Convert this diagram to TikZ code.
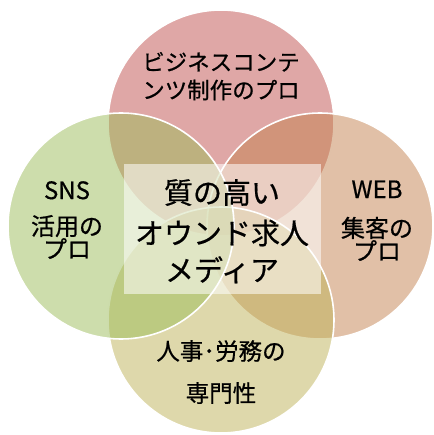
\documentclass[tikz,border=0pt]{standalone}
\usepackage{fontspec}
\newfontfamily\jp[FakeBold=0.6]{Noto Sans CJK JP}
\definecolor{ctop}{RGB}{192,80,77}
\definecolor{cright}{RGB}{195,130,80}
\definecolor{cbottom}{RGB}{190,178,88}
\definecolor{cleft}{RGB}{155,187,89}
\begin{document}
\begin{tikzpicture}[x=1pt,y=-1pt,
  petal/.style={draw=white,line width=1.6pt,fill opacity=0.5,draw opacity=1},
  lbl/.style={inner sep=0pt},
  small/.style={lbl,font=\jp\fontsize{22.5}{25}\selectfont,text height=19.8pt,text depth=2.7pt},
  btm/.style={lbl,font=\jp\fontsize{23.5}{26}\selectfont,text height=20.7pt,text depth=2.8pt},
  side/.style={lbl,font=\jp\fontsize{24}{27}\selectfont,text height=21.1pt,text depth=2.9pt},
  big/.style={lbl,font=\jp\fontsize{29}{32}\selectfont,text height=25.5pt,text depth=3.5pt}]
\useasboundingbox (0,0) rectangle (433,435);
\path[petal,fill=ctop] (221,123) circle[radius=113pt];
\path[petal,fill=cright] (320,226) circle[radius=113pt];
\path[petal,fill=cbottom] (221,320) circle[radius=113pt];
\path[petal,fill=cleft] (121,226) circle[radius=113pt];
\node[fill=white,fill opacity=0.55,minimum width=197pt,minimum height=130pt,inner sep=0pt] (box) at (222.5,229) {};
% top
\node[small] (t1) at (221,62) {ビジネスコンテ};
\node[small] (t2) at (221,90) {ンツ制作のプロ};
% center
\node[big] (c1) at (222,192.5) {質の高い};
\node[big] (c2) at (222,233) {オウンド求人};
\node[big] (c3) at (222,270) {メディア};
% left
\node[side] (l1) at (67,190) {SNS};
\node[side] (l2) at (67,226) {活用の};
\node[side] (l3) at (67,249) {プロ};
% right
\node[side] (r1) at (377,189) {WEB};
\node[side] (r2) at (377,228) {集客の};
\node[side] (r3) at (377,251) {プロ};
% bottom
\node[btm] (b1) at (221,351) {人事･労務の};
\node[btm] (b2) at (221,393) {専門性};
\end{tikzpicture}
\end{document}
